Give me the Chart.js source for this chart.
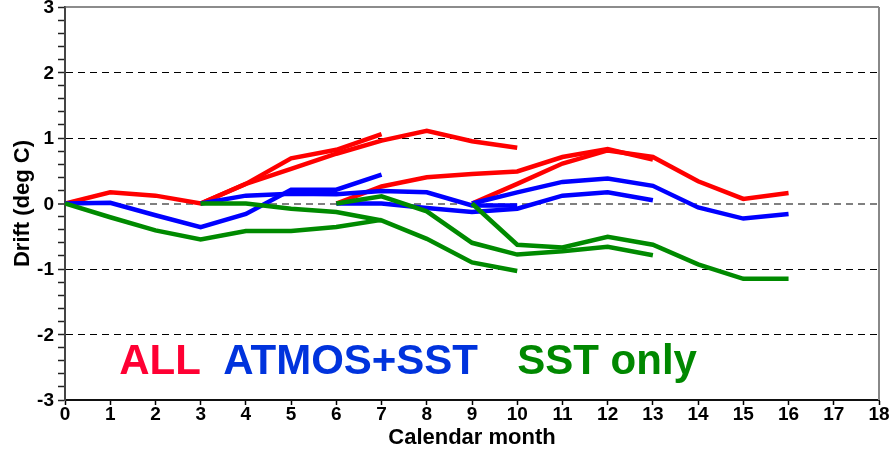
<!DOCTYPE html>
<html>
<head>
<meta charset="utf-8">
<script src="https://cdn.jsdelivr.net/npm/chart.js@4.4.1/dist/chart.umd.min.js"></script>
<style>
  html, body { margin: 0; padding: 0; background: #fff; }
  #wrap { width: 891px; height: 453px; position: relative; }
</style>
</head>
<body>
<div id="wrap"><canvas id="driftChart"></canvas></div>
<script>
// forecast start months, each run is 7 months long
const startMonths = [0, 3, 6, 9];

const allDrift = [
  [0, 0.17, 0.12, 0.00, 0.30, 0.69, 0.82, 1.06],
  [0, 0.30, 0.53, 0.76, 0.96, 1.11, 0.95, 0.85],
  [0, 0.26, 0.40, 0.45, 0.49, 0.71, 0.83, 0.67],
  [0, 0.30, 0.61, 0.81, 0.71, 0.34, 0.07, 0.16]
];
const atmosDrift = [
  [0, 0.01, -0.18, -0.36, -0.16, 0.21, 0.21, 0.44],
  [0, 0.12, 0.15, 0.14, 0.19, 0.17, -0.03, -0.03],
  [0, 0.00, -0.07, -0.13, -0.08, 0.12, 0.17, 0.05],
  [0, 0.17, 0.33, 0.38, 0.27, -0.06, -0.23, -0.16]
];
const sstDrift = [
  [0, -0.21, -0.41, -0.55, -0.42, -0.42, -0.36, -0.25],
  [0, 0.00, -0.08, -0.13, -0.26, -0.54, -0.90, -1.03],
  [0, 0.11, -0.12, -0.60, -0.78, -0.73, -0.66, -0.79],
  [0, -0.63, -0.67, -0.51, -0.63, -0.93, -1.15, -1.15]
];

const groupNames = ['ALL', 'ATMOS+SST', 'SST only'];
const groupLines = ['#ff0000', '#0000ff', '#008a00'];
const groupText = ['#ff0033', '#0033dd', '#008800'];
const labelMonth = [1.2, 3.5, 10.0];
const labelDrift = -2.6;

const monthTicks = [0, 18];
const driftTicks = [-3, 3];

function makeSets(runs, name, color, order) {
  return runs.map((vals, r) => ({
    label: name + ' ' + startMonths[r],
    data: vals.map((v, i) => ({ x: startMonths[r] + i, y: v })),
    borderColor: color,
    borderWidth: 4.5,
    pointRadius: 0,
    fill: false,
    tension: 0,
    order: order
  }));
}

const datasets = [
  ...makeSets(allDrift, groupNames[0], groupLines[0], 2),
  ...makeSets(atmosDrift, groupNames[1], groupLines[1], 1),
  ...makeSets(sstDrift, groupNames[2], groupLines[2], 0)
];

// frame on top / right plus the big coloured labels
const extras = {
  id: 'extras',
  afterDraw(chart) {
    const ctx = chart.ctx;
    const a = chart.chartArea;
    ctx.save();
    ctx.strokeStyle = '#666';
    ctx.lineWidth = 1.5;
    ctx.beginPath();
    ctx.moveTo(a.left, a.top);
    ctx.lineTo(a.right, a.top);
    ctx.stroke();
    ctx.strokeStyle = '#888';
    ctx.lineWidth = 2;
    ctx.beginPath();
    ctx.moveTo(a.right, a.top);
    ctx.lineTo(a.right, a.bottom);
    ctx.stroke();

    const xs = chart.scales.x, ys = chart.scales.y;
    ctx.font = 'bold 42px "Liberation Sans", Arial, sans-serif';
    ctx.textBaseline = 'alphabetic';
    groupNames.forEach((t, i) => {
      ctx.fillStyle = groupText[i];
      ctx.fillText(t, xs.getPixelForValue(labelMonth[i]), ys.getPixelForValue(labelDrift));
    });
    ctx.restore();
  }
};

const tickFont = { family: '"Liberation Sans", Arial, sans-serif', size: 19, weight: 'bold' };
const titleFont = { family: '"Liberation Sans", Arial, sans-serif', size: 22, weight: 'bold' };

new Chart(document.getElementById('driftChart'), {
  type: 'line',
  data: { datasets },
  options: {
    responsive: true,
    maintainAspectRatio: false,
    animation: false,
    layout: { padding: { top: 7, right: 12, left: 0, bottom: 0 } },
    plugins: { legend: { display: false }, tooltip: { enabled: false } },
    scales: {
      x: {
        type: 'linear',
        min: monthTicks[0],
        max: monthTicks[1],
        afterFit(s) { s.height = 53; s.paddingLeft = 0; s.paddingRight = 0; },
        ticks: { stepSize: 1, autoSkip: false, color: '#000', font: tickFont, padding: -2, maxRotation: 0 },
        grid: { drawOnChartArea: false, tickLength: 5, tickColor: '#000', tickWidth: 1.5 },
        border: { display: true, color: '#111', width: 2 },
        title: { display: true, text: 'Calendar month', color: '#000', font: titleFont, padding: { top: 0, bottom: 2 } }
      },
      y: {
        min: driftTicks[0],
        max: driftTicks[1],
        afterFit(s) { s.width = 65; s.paddingTop = 0; s.paddingBottom = 0; },
        ticks: {
          stepSize: 0.2,
          autoSkip: false,
          color: '#000',
          font: tickFont,
          padding: 4,
          labelOffset: 1,
          callback(v) {
            const r = Math.round(v);
            return Math.abs(v - r) < 1e-6 ? String(r) : '';
          }
        },
        grid: {
          tickLength: 7,
          tickColor: '#222',
          tickWidth: 1.5,
          color(c) {
            const v = c.tick ? c.tick.value : null;
            if (v === null) return 'rgba(0,0,0,0)';
            const r = Math.round(v);
            if (Math.abs(v - r) > 1e-6 || r === -3 || r === 3) return 'rgba(0,0,0,0)';
            return r === 0 ? '#808080' : '#000';
          },
          lineWidth(c) {
            const v = c.tick ? Math.round(c.tick.value * 10) : 1;
            return v === 0 ? 2 : 1;
          }
        },
        border: { display: true, color: '#444', width: 2, dash: [7, 5] },
        title: { display: true, text: 'Drift (deg C)', color: '#000', font: titleFont, padding: { top: 10, bottom: 0 } }
      }
    }
  },
  plugins: [extras]
});
</script>
</body>
</html>
